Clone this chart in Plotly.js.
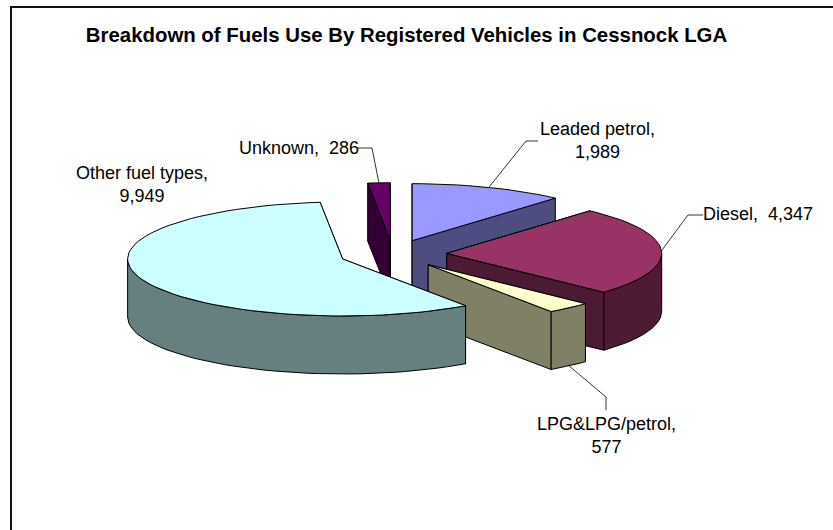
<!DOCTYPE html>
<html><head><meta charset="utf-8">
<script src="https://cdn.plot.ly/plotly-3.0.1.min.js"></script>
<style>html,body{margin:0;padding:0;background:#fff}#c{width:833px;height:530px}</style></head>
<body><div id="c"></div>
<script>
const categories = ["Leaded petrol","Diesel","LPG&LPG/petrol","Other fuel types","Unknown"];
const values = [1989,4347,577,9949,286];
const labelLines = [["Leaded petrol,","1,989"],["Diesel,  4,347"],["LPG&LPG/petrol,","577"],["Other fuel types,","9,949"],["Unknown,  286"]];
const topColors = ["#9999FF","#993366","#FFFFCC","#CCFFFF","#660066"];
const sideColors = ["#4D4D80","#4D1A33","#808066","#668080","#330033"];
const labelPos = [[597,140.5],[758,214],[606,435.5],[141.5,184],[299,148]];
const leaders = [[[526,141],[538,141]],[[688,215],[703,215]],[[606,397],[606,410]],null,[[372,148],[358,148]]];

const W=833,H=530,CX=393,CY=254,RX=215,RY=57,DEPTH=58,EXPLODE=0.25;
const total = values.reduce((a,b)=>a+b,0);
const P=(cx,cy,deg)=>{const t=deg*Math.PI/180;return [cx+RX*Math.sin(t),cy-RY*Math.cos(t)];};
let start=0; const slices=values.map((v,i)=>{
  const s=start,e=start+v/total*360; start=e; const m=(s+e)/2,t=m*Math.PI/180;
  return {i,s,e,m,cx:CX+EXPLODE*RX*Math.sin(t),cy:CY-EXPLODE*RY*Math.cos(t)};
});
const arc=(sl,a,b,dy=0)=>{const pts=[];const n=Math.max(2,Math.ceil(Math.abs(b-a)/3));
  for(let k=0;k<=n;k++){pts.push(P(sl.cx,sl.cy+dy,a+(b-a)*k/n));}return pts;};
const traces=[];
const poly=(pts,fill,name)=>{const c=pts.concat([pts[0]]);traces.push({type:'scatter',mode:'lines',x:c.map(p=>p[0]),y:c.map(p=>p[1]),fill:'toself',fillcolor:fill,line:{color:'#000',width:1},hoverinfo:'text',text:name,showlegend:false});};
const drawSlice=sl=>{
  const name=categories[sl.i]+': '+values[sl.i].toLocaleString('en-US');
  const side=sideColors[sl.i],top=topColors[sl.i],tip=[sl.cx,sl.cy],tipB=[sl.cx,sl.cy+DEPTH];
  const wall=a=>{const p=P(sl.cx,sl.cy,a);poly([tip,p,[p[0],p[1]+DEPTH],tipB],side,name);};
  wall(sl.s); wall(sl.e);
  const a=Math.max(sl.s,90),b=Math.min(sl.e,270);
  if(b>a){poly(arc(sl,a,b).concat(arc(sl,b,a,DEPTH)),side,name);}
  poly([tip].concat(arc(sl,sl.s,sl.e)),top,name);
};
[4,0,1,2,3].forEach(i=>drawSlice(slices[i]));
slices.forEach(sl=>{const L=leaders[sl.i];if(!L)return;
  const from=P(sl.cx,sl.cy+(sl.m>90&&sl.m<270?DEPTH:0),sl.m);
  const pts=[from].concat(L);
  traces.push({type:'scatter',mode:'lines',x:pts.map(p=>p[0]),y:pts.map(p=>p[1]),line:{color:'#000',width:0.8},hoverinfo:'skip',showlegend:false});
});
const font={family:'"Liberation Sans",Arial,sans-serif',size:18,color:'#000'};
const annotations=labelLines.map((l,i)=>({x:labelPos[i][0],y:labelPos[i][1],xref:'x',yref:'y',text:l.join('<br>'),showarrow:false,font,align:'center',xanchor:'center',yanchor:'middle'}));
const layout={width:W,height:H,margin:{l:0,r:0,t:0,b:0},paper_bgcolor:'#fff',plot_bgcolor:'#fff',showlegend:false,
  title:{text:'<b>Breakdown of Fuels Use By Registered Vehicles in Cessnock LGA</b>',font:{family:font.family,size:20.4,color:'#000'},x:406.5/833,xanchor:'center',y:1-35/530,yanchor:'middle'},
  xaxis:{range:[0,W],visible:false,fixedrange:true},yaxis:{range:[H,0],visible:false,fixedrange:true},
  annotations,
  shapes:[{type:'rect',xref:'x',yref:'y',x0:11,y0:7,x1:W+10,y1:H+10,line:{color:'#111',width:2},fillcolor:'rgba(0,0,0,0)',layer:'below'}]};
Plotly.newPlot('c',traces,layout,{displayModeBar:false,staticPlot:true});
</script></body></html>
